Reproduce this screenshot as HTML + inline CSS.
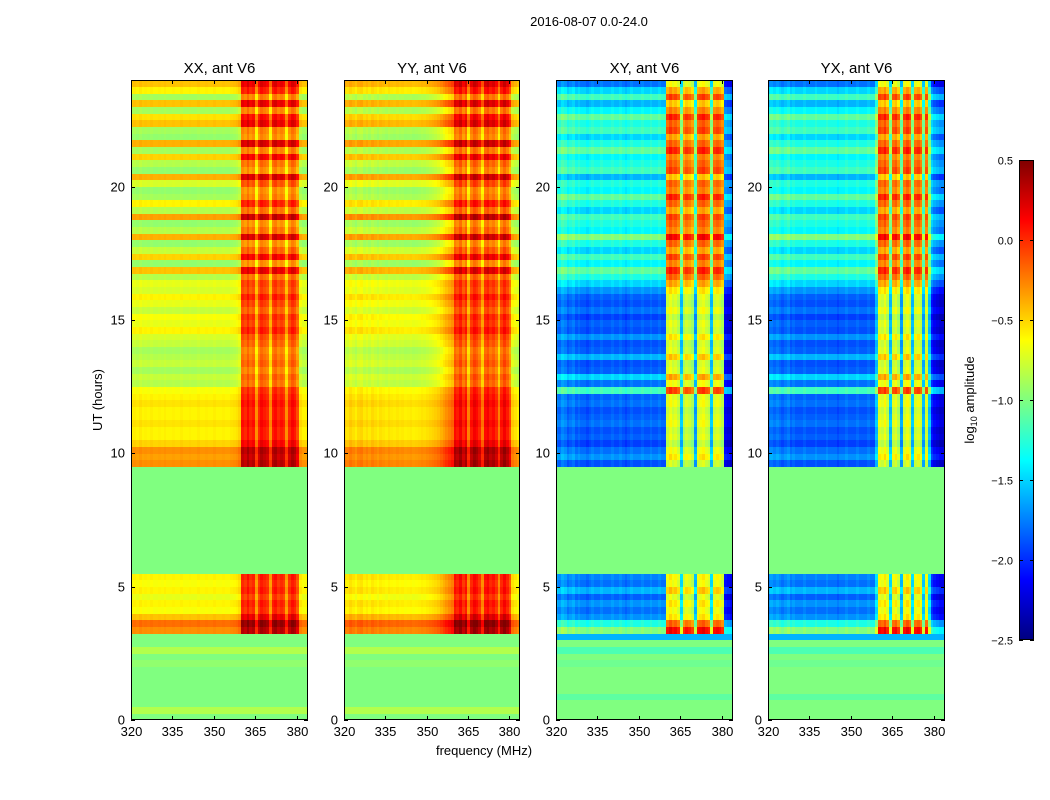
<!DOCTYPE html>
<html><head><meta charset="utf-8">
<style>
body{margin:0;background:#fff;width:1050px;height:800px;overflow:hidden;position:relative;font-family:"Liberation Sans",sans-serif;}
canvas{position:absolute;image-rendering:pixelated;}
svg{position:absolute;left:0;top:0;}
</style></head>
<body>
<canvas id="c0" style="left:131px;top:80px" width="177" height="640"></canvas>
<canvas id="c1" style="left:344px;top:80px" width="176" height="640"></canvas>
<canvas id="c2" style="left:556px;top:80px" width="177" height="640"></canvas>
<canvas id="c3" style="left:768px;top:80px" width="177" height="640"></canvas>
<canvas id="cb" style="left:1019px;top:160px" width="15" height="480"></canvas>
<svg id="ov" width="1050" height="800"></svg>
<script>
// ---- data ----
const freqRange = [320, 384];
const timeRange = [0, 24];
const flaggedRanges = [[0, 3.2], [5.5, 9.5]];
const xTicks = [320, 335, 350, 365, 380];
const yTicks = [0, 5, 10, 15, 20];
const cbTicks = [0.5, 0.0, -0.5, -1.0, -1.5, -2.0, -2.5];
const cbTickLabels = ["0.5", "0.0", "\u22120.5", "\u22121.0", "\u22121.5", "\u22122.0", "\u22122.5"];
const panelTitles = ["XX, ant V6", "YY, ant V6", "XY, ant V6", "YX, ant V6"];
// row levels, 0.25 h per row (96 rows)
const rowsParallel = [
-1.0,-0.85,-1.0,-1.0,-1.0,-1.0,-1.0,-1.0,-0.95,-1.0,-0.85,-1.0,
-1.0,-0.3,-0.2,-0.45,
-0.65,-0.6,-0.7,-0.6,-0.65,-0.6,
-1,-1,-1,-1,-1,-1,-1,-1,-1,-1,-1,-1,-1,-1,-1,-1,
-0.3,-0.35,-0.3,-0.5,
-0.6,-0.6,-0.55,-0.6,-0.6,-0.55,-0.6,-0.65,
-0.85,-0.8,-0.9,-0.8,-0.85,-0.9,-0.8,-0.75,
-0.6,-0.7,-0.65,-0.8,-0.7,-0.6,-0.75,-0.7,
-0.85,-0.45,-0.95,-0.5,-0.8,-0.95,-0.4,-0.85,-0.95,-0.35,-0.85,-0.6,-0.9,-0.95,-0.75,-0.4,-0.95,-0.85,-0.5,-0.9,-0.4,-0.95,-0.9,-0.45,-0.55,-0.9,-0.45,-0.9,-0.6,-0.45];
const rowsCross = [
-1.0,-1.0,-1.0,-1.1,-1.0,-1.0,-1.0,-1.0,-1.05,-1.0,-1.15,-1.0,
-1.6,-1.0,-1.3,-1.7,
-1.8,-1.7,-1.85,-1.6,-1.8,-1.75,
-1,-1,-1,-1,-1,-1,-1,-1,-1,-1,-1,-1,-1,-1,-1,-1,
-1.9,-1.7,-1.8,-1.95,-1.85,-1.9,-1.8,-1.85,-1.9,-1.8,-1.85,-1.2,
-1.8,-1.5,-1.85,-1.9,-1.6,-1.85,-1.9,-1.7,-1.9,-1.85,-1.95,-1.8,-1.9,-1.85,-1.7,-1.5,
-1.3,-1.1,-1.4,-1.2,-1.5,-1.3,-1.0,-1.4,-1.3,-1.2,-1.5,-1.3,-1.1,-1.4,-1.3,-1.6,-1.2,-1.3,-1.4,-1.1,-1.3,-1.5,-1.2,-1.3,-1.1,-1.4,-1.6,-1.2,-1.5,-1.8];
// column offsets, 1 MHz per column (64 columns)
const colsXX = [
0,0.02,0,0.03,0,0.01,0,0.02,0,0,0.01,0,0.02,0,0,0.01,0,0,0.02,0,
0,0.01,0,0,0.02,0,0,0.01,0,0,0.02,0,0,0.01,0,0,0.02,0.03,0.05,0.1,
0.65,0.6,0.7,0.6,0.65,0.3,0.6,0.7,0.65,0.6,0.3,0.65,0.7,0.6,0.65,0.6,0.3,0.6,0.7,0.65,0.5,0.05,0,0];
const colsYY = [
0.08,0.05,0.1,0.06,0.02,0.08,0.1,0.04,0.07,0.03,0.08,0.05,0.02,0.06,0.04,0.02,0.05,0.03,0.02,0.04,
0.02,0.03,0.01,0.02,0.03,0.01,0.02,0.03,0.05,0.04,0.06,0.08,0.1,0.12,0.15,0.2,0.25,0.3,0.35,0.4,
0.7,0.65,0.75,0.6,0.7,0.35,0.65,0.75,0.7,0.6,0.35,0.7,0.75,0.65,0.7,0.6,0.35,0.65,0.75,0.65,0.5,0.1,0.05,0];
const colsXY = [
0.1,0.05,0.15,0.1,0,0.05,0.1,0,0.05,0,0,-0.05,0,0.05,0,0,0.05,0,0,0,
0.05,0,0,0.05,0,-0.05,0,0.05,0,0,0,0.05,0,0,0.05,0,0,0.05,0,0,
1.1,1.2,1.1,1.15,1.05,0.3,1.0,1.1,1.05,0.95,0.2,1.1,1.15,1.2,1.1,1.05,0.3,1.1,1.15,1.1,1.0,-0.3,-0.35,-0.4];
const colsYX = [
0.05,0.1,0.05,0.1,0.05,0,0.05,0.1,0,0.05,0,0,0,0.05,0,0,0,0.05,0,0,
0,0.05,0,0,0,-0.05,0,0,0.05,0,0,0,0.05,0,0,0,0.05,0,0,0.3,
1.15,1.1,1.2,1.05,0.3,1.1,1.15,1.0,0.2,1.1,1.2,1.1,0.3,1.1,1.15,1.05,0.25,1.1,0.3,-0.2,-0.3,-0.35,-0.4,-0.4];

const panels = [
 {id:"c0", rows:rowsParallel, cols:colsXX, left:131, w:177},
 {id:"c1", rows:rowsParallel, cols:colsYY, left:344, w:176},
 {id:"c2", rows:rowsCross, cols:colsXY, left:556, w:177},
 {id:"c3", rows:rowsCross, cols:colsYX, left:768, w:177}];
const vmin=-2.5, vmax=0.5, topY=80, H=640;

function jet(v){
  let t=(v-vmin)/(vmax-vmin); t=Math.max(0,Math.min(1,t));
  const f=x=>Math.max(0,Math.min(1,x));
  const r=f(Math.min(4*t-1.5,-4*t+4.5)), g=f(Math.min(4*t-0.5,-4*t+3.5)), b=f(Math.min(4*t+0.5,-4*t+2.5));
  return `rgb(${Math.round(r*255)},${Math.round(g*255)},${Math.round(b*255)})`;
}
function flagged(t){return flaggedRanges.some(r=>t>=r[0]&&t<r[1]);}

panels.forEach(p=>{
  const ctx=document.getElementById(p.id).getContext("2d");
  const xs=f=>(f-freqRange[0])/(freqRange[1]-freqRange[0])*p.w;
  const ys=t=>H-(t-timeRange[0])/(timeRange[1]-timeRange[0])*H;
  const dt=(timeRange[1]-timeRange[0])/p.rows.length, df=(freqRange[1]-freqRange[0])/p.cols.length;
  p.rows.forEach((rv,i)=>{
    const t0=timeRange[0]+i*dt, fl=flagged(t0+dt/2);
    const y0=ys(t0+dt), y1=ys(t0);
    p.cols.forEach((cv,j)=>{
      const f0=freqRange[0]+j*df;
      ctx.fillStyle=jet(fl?rv:rv+cv);
      const x0=Math.floor(xs(f0)), x1=Math.ceil(xs(f0+df));
      ctx.fillRect(x0,Math.floor(y0),x1-x0,Math.ceil(y1)-Math.floor(y0));
    });
  });
});
// colorbar
(function(){
  const ctx=document.getElementById("cb").getContext("2d");
  for(let y=0;y<480;y++){ctx.fillStyle=jet(vmax-(y+0.5)/480*(vmax-vmin));ctx.fillRect(0,y,15,1);}
})();

const svg=document.getElementById("ov"), NS="http://www.w3.org/2000/svg";
function el(tag,attrs,txt){const e=document.createElementNS(NS,tag);for(const k in attrs)e.setAttribute(k,attrs[k]);if(txt!==undefined)e.textContent=txt;svg.appendChild(e);return e;}

panels.forEach((p,k)=>{
  const xs=f=>p.left+(f-freqRange[0])/(freqRange[1]-freqRange[0])*p.w;
  const ys=t=>topY+H-(t-timeRange[0])/(timeRange[1]-timeRange[0])*H;
  const fr=el("rect",{x:p.left+0.5,y:topY+0.5,width:p.w-1,height:H-1,fill:"none",stroke:"#000","stroke-width":1});
  
  
  xTicks.forEach(v=>{
    const x=Math.round(xs(v))+0.5;
    el("line",{x1:x,y1:topY+H,x2:x,y2:topY+H-4,stroke:"#000"});
    el("line",{x1:x,y1:topY,x2:x,y2:topY+4,stroke:"#000"});
    const t=el("text",{x:x,y:topY+H+16,"font-size":13,"text-anchor":"middle"},String(v));
    
    
  });
  yTicks.forEach(v=>{
    const y=Math.round(ys(v))+0.5;
    el("line",{x1:p.left,y1:y,x2:p.left+4,y2:y,stroke:"#000"});
    el("line",{x1:p.left+p.w,y1:y,x2:p.left+p.w-4,y2:y,stroke:"#000"});
    const t=el("text",{x:p.left-6,y:y+4,"font-size":13,"text-anchor":"end"},String(v));
    
    
  });
  const tt=el("text",{x:p.left+p.w/2,y:73,"font-size":15,"text-anchor":"middle"},panelTitles[k]);
  
  
});
// colorbar frame and ticks
el("rect",{x:1019.5,y:160.5,width:14,height:479,fill:"none",stroke:"#000"});
cbTicks.forEach((v,i)=>{
  const y=Math.round(160+(vmax-v)/(vmax-vmin)*480)+0.5;
  el("line",{x1:1019,y1:y,x2:1023,y2:y,stroke:"#000"});
  el("line",{x1:1030,y1:y,x2:1034,y2:y,stroke:"#000"});
  const t=el("text",{x:1013,y:y+4,"font-size":11,"text-anchor":"end"},cbTickLabels[i]);
  
  
});
</script>
<svg width="1050" height="800" style="pointer-events:none">
<text x="589" y="26" font-size="13" text-anchor="middle">2016-08-07 0.0-24.0</text>
<text x="484" y="755" font-size="13" text-anchor="middle">frequency (MHz)</text>
<text x="0" y="0" font-size="13" text-anchor="middle" transform="translate(102,400) rotate(-90)">UT (hours)</text>
<text x="0" y="0" font-size="13" text-anchor="middle" transform="translate(974,400) rotate(-90)">log<tspan font-size="9" dy="3">10</tspan><tspan dy="-3"> amplitude</tspan></text>
</svg>
</body></html>
